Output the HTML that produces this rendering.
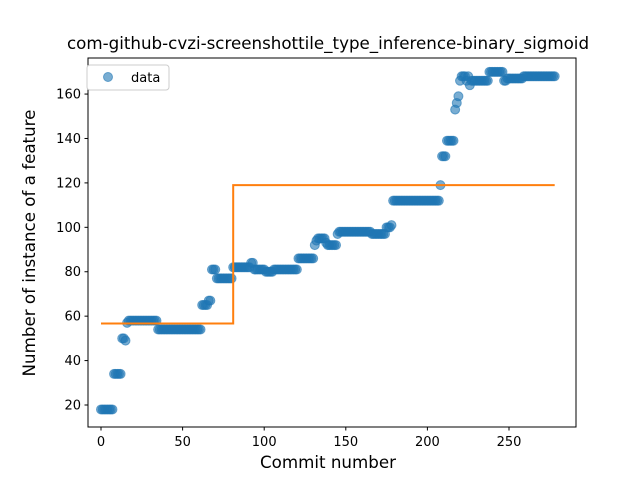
<!DOCTYPE html>
<html><head><meta charset="utf-8"><style>
body{margin:0;background:#fff;font-family:"Liberation Sans","DejaVu Sans",sans-serif}
svg text{font-family:"DejaVu Sans","Liberation Sans",sans-serif}
</style></head><body>
<svg id="c" width="640" height="480">
<rect width="640" height="480" fill="#fff"/>
<g id="marks"></g>
<rect x="88" y="58" width="488" height="369" fill="none" stroke="#000" stroke-width="1"/>
<g id="ticks"></g>
<text x="328" y="49" text-anchor="middle" font-size="16.7">com-github-cvzi-screenshottile_type_inference-binary_sigmoid</text>
<text x="328" y="468" text-anchor="middle" font-size="16.7">Commit number</text>
<text transform="translate(35,243) rotate(-90)" text-anchor="middle" font-size="16.7">Number of instance of a feature</text>
<g>
<rect x="87" y="65" width="82" height="25" rx="3" fill="#fff" stroke="#ccc"/>
<circle cx="108" cy="77" r="4.5" fill="#1f77b4" fill-opacity="0.6" stroke="#1f77b4" stroke-opacity="0.6"/>
<text x="131" y="82" font-size="13">data</text>
</g>
</svg>
<script>
const runStarts=[0,8,13,15,16,17,35,62,66,68,71,81,92,94,101,106,121,131,132,133,138,139,145,146,166,175,178,179,208,209,212,217,218,219,220,221,224,225,226,227,238,247,249,259];
const runValues=[18,34,50,49,57,58,54,65,67,81,77,82,84,81,80,81,86,92,94,95,93,92,97,98,97,100,101,112,119,132,139,153,156,159,166,168,166,168,164,166,170,166,167,168];
const lastCommit=278;
const fitBreaks=[0,81,278];
const fitValues=[56.7,119];
const xTicks=[0,50,100,150,200,250];
const yTicks=[20,40,60,80,100,120,140,160];
const X=v=>101+v*1.632, Y=v=>405-(v-20)*2.221;
const NS="http://www.w3.org/2000/svg";
const marks=document.getElementById('marks'), tk=document.getElementById('ticks');
function mk(t,a,p){const e=document.createElementNS(NS,t);for(const k in a)e.setAttribute(k,a[k]);p.appendChild(e);return e;}
for(let r=0;r<runStarts.length;r++){
  const end=r+1<runStarts.length?runStarts[r+1]:lastCommit+1;
  for(let i=runStarts[r];i<end;i++){
    const c=mk('circle',{cx:X(i),cy:Y(runValues[r]),r:4.5,fill:'#1f77b4','fill-opacity':0.6,stroke:'#1f77b4','stroke-opacity':0.6},marks);
    
    
  }
}
let d='';
for(let s=0;s<fitValues.length;s++){d+=(s?'L':'M')+X(fitBreaks[s])+' '+Y(fitValues[s])+'L'+X(fitBreaks[s+1])+' '+Y(fitValues[s]);}
const fl=mk('path',{d:d,fill:'none',stroke:'#ff7f0e','stroke-width':2},marks);


xTicks.forEach(v=>{
  mk('line',{x1:X(v),x2:X(v),y1:427,y2:430.5,stroke:'#000'},tk);
  const t=mk('text',{x:X(v),y:446,'text-anchor':'middle','font-size':13},tk);t.textContent=v;
  
  
});
yTicks.forEach(v=>{
  mk('line',{x1:84.5,x2:88,y1:Y(v),y2:Y(v),stroke:'#000'},tk);
  const t=mk('text',{x:81,y:Y(v)+4.5,'text-anchor':'end','font-size':13},tk);t.textContent=v;
  
  
});
</script>
</body></html>
